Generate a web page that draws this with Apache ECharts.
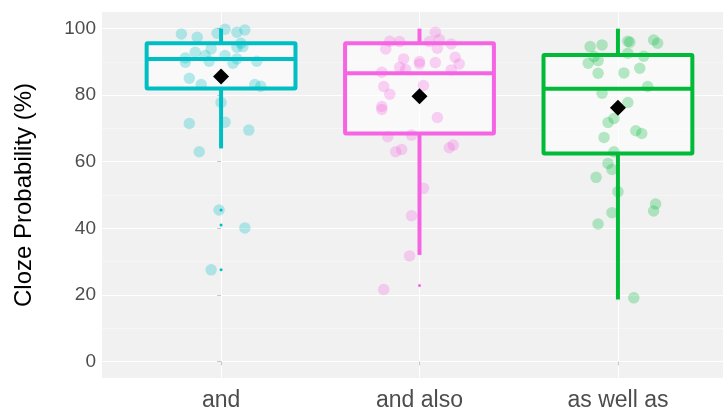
<!DOCTYPE html>
<html>
<head>
<meta charset="utf-8">
<script src="https://cdn.jsdelivr.net/npm/echarts@6/dist/echarts.min.js"></script>
<style>
  html, body { margin: 0; padding: 0; background: #fff; }
  #chart { width: 723px; height: 413px; }
</style>
</head>
<body>
<div id="chart"></div>
<script>
var categories = ['and', 'and also', 'as well as'];
var colors = ['#00BFC4', '#F564E3', '#00BA38'];

// box stats per category: [lower whisker, Q1, median, Q3, upper whisker]
var boxStats = [
  [64, 82, 90.9, 95.6, 100],
  [32, 68.5, 86.6, 95.6, 100],
  [18.6, 62.5, 81.9, 92.1, 100]
];
var means = [85.6, 79.7, 76.2];
var outliers = [[0, 45.5], [0, 41], [0, 27.5], [1, 22.8]];

// jittered raw points, x offset from category centre (category units)
var andOffset = [-0.2, -0.12, -0.02, 0.02, 0.08, 0.12, 0.1, 0.08, 0.11, -0.05, -0.13, -0.18, -0.18, -0.08, -0.06, 0.02, 0.06, 0.08, 0.18, -0.16, -0.1, 0.17, 0.2, 0, -0.16, 0.02, 0.14, -0.11, -0.01, 0.12, -0.05];
var andValue = [98.4, 97.4, 98.6, 99.8, 98.9, 99.6, 95.6, 94.4, 94.6, 93.9, 92.9, 91.2, 89.9, 91.9, 90.2, 91.9, 89.6, 90.9, 90.2, 85.1, 83.2, 83.2, 82.7, 77.8, 71.5, 71.9, 69.5, 63, 45.5, 40.1, 27.5];

var alsoOffset = [0.08, -0.15, -0.1, 0.05, 0.1, 0.16, -0.17, 0.09, 0.18, 0.2, -0.08, 0, 0, 0.08, -0.1, -0.07, -0.19, 0.16, -0.18, 0.02, -0.15, -0.19, -0.19, 0.09, -0.16, -0.04, -0.12, -0.09, 0.15, 0.17, 0.02, -0.04, -0.05, -0.18];
var alsoValue = [98.9, 96.2, 96.1, 96.1, 96.7, 95.4, 93.9, 94.1, 91.4, 89.4, 90.9, 90.1, 89.4, 89.8, 88.4, 87.7, 86.9, 87.6, 82.6, 82.9, 80.3, 76.6, 75.7, 73.3, 67.5, 68, 63, 63.7, 64.2, 65, 52, 43.8, 31.7, 21.6];

var wellOffset = [-0.14, -0.08, 0.05, 0.06, 0.18, 0.2, 0.05, 0.13, -0.12, -0.15, -0.1, 0.11, -0.1, 0.03, 0.15, -0.08, 0.05, -0.02, -0.05, 0.09, 0.12, -0.07, -0.02, -0.05, -0.03, -0.11, 0, 0.19, 0.18, -0.03, -0.1, 0.08];
var wellValue = [94.6, 95.1, 96.2, 95.9, 96.6, 95.6, 92.6, 91.7, 91.6, 89.6, 90.4, 88.1, 86.6, 86.7, 82.6, 80.6, 77.8, 73, 71.8, 69.3, 68.5, 67.3, 63, 59.5, 57.7, 55.3, 51, 47.3, 45.2, 44.7, 41.3, 19.1];

var yTicks = [0, 20, 40, 60, 80, 100];
var yMinor = [10, 30, 50, 70, 90];

var HALF = 0.375;

var jitterSets = [[andOffset, andValue], [alsoOffset, alsoValue], [wellOffset, wellValue]];

function pointsFor(i) {
  var off = jitterSets[i][0], val = jitterSets[i][1];
  var out = [];
  for (var k = 0; k < val.length; k++) {
    out.push([i + off[k], val[k]]);
  }
  return out;
}

var boxData = boxStats.map(function(s, i) { return [i].concat(s); });

function renderBox(params, api) {
  var i = api.value(0);
  var lo = api.value(1), q1 = api.value(2), med = api.value(3), q3 = api.value(4), hi = api.value(5);
  var c = colors[params.dataIndex];
  var tl = api.coord([i - HALF, q3]);
  var br = api.coord([i + HALF, q1]);
  var m1 = api.coord([i - HALF, med]);
  var m2 = api.coord([i + HALF, med]);
  var top = api.coord([i, hi]);
  var bot = api.coord([i, lo]);
  var ctop = api.coord([i, q3]);
  var cbot = api.coord([i, q1]);
  var ls = { stroke: c, lineWidth: 4 };
  return {
    type: 'group',
    children: [
      { type: 'line', shape: { x1: top[0], y1: top[1], x2: ctop[0], y2: ctop[1] }, style: ls },
      { type: 'line', shape: { x1: cbot[0], y1: cbot[1], x2: bot[0], y2: bot[1] }, style: ls },
      { type: 'rect', shape: { x: tl[0], y: tl[1], width: br[0] - tl[0], height: br[1] - tl[1], r: 1 },
        style: { fill: 'rgba(255,255,255,0.55)', stroke: c, lineWidth: 4 } },
      { type: 'line', shape: { x1: m1[0], y1: m1[1], x2: m2[0], y2: m2[1] }, style: ls }
    ]
  };
}

var chart = echarts.init(document.getElementById('chart'));

var series = [
  {
    type: 'custom',
    renderItem: renderBox,
    data: boxData,
    z: 2,
    silent: true
  }
];

for (var i = 0; i < 3; i++) {
  series.push({
    type: 'scatter',
    data: pointsFor(i),
    symbolSize: 11.5,
    itemStyle: { color: colors[i], opacity: 0.28 },
    z: 3,
    silent: true
  });
}

var outlierData = outliers.map(function(o) { return { value: o, itemStyle: { color: colors[o[0]], opacity: 1 } }; });
series.push({
  type: 'scatter',
  data: outlierData,
  symbolSize: 3,
  z: 4,
  silent: true
});

series.push({
  type: 'scatter',
  data: means.map(function(m, i) { return [i, m]; }),
  symbol: 'diamond',
  symbolSize: 16,
  itemStyle: { color: '#000', opacity: 1 },
  z: 5,
  silent: true
});

chart.setOption({
  animation: false,
  textStyle: { fontFamily: 'Liberation Sans, Arial, sans-serif' },
  grid: {
    left: 102,
    top: 12,
    width: 635,
    height: 366,
    outerBoundsMode: 'none',
    containLabel: false,
    show: true,
    backgroundColor: '#F1F1F1',
    borderWidth: 0
  },
  xAxis: {
    type: 'value',
    min: -0.6,
    max: 2.6,
    axisLine: { show: false },
    axisTick: { show: true, length: 4, lineStyle: { color: '#C8C8C8' }, customValues: [0, 1, 2] },
    axisLabel: {
      customValues: [0, 1, 2],
      formatter: function(v) { return categories[Math.round(v)]; },
      color: '#4D4D4D',
      fontSize: 23,
      margin: 11
    },
    splitLine: { show: true, lineStyle: { color: '#FFFFFF', width: 1 } }
  },
  yAxis: [
    {
      type: 'value',
      min: -5,
      max: 105,
      name: 'Cloze Probability (%)',
      nameLocation: 'middle',
      nameGap: 66,
      nameTextStyle: { color: '#000', fontSize: 24 },
      axisLine: { show: false },
      axisTick: { show: true, length: 4, lineStyle: { color: '#C8C8C8' }, customValues: yTicks },
      axisLabel: { customValues: yTicks, color: '#4D4D4D', fontSize: 19, margin: 6 },
      splitLine: { show: true, lineStyle: { color: '#FFFFFF', width: 1.2 } }
    },
    {
      type: 'value',
      min: -5,
      max: 105,
      show: true,
      axisLine: { show: false },
      axisTick: { show: false, customValues: yMinor },
      axisLabel: { show: false, customValues: yMinor },
      splitLine: { show: true, lineStyle: { color: '#F8F8F8', width: 0.8 } }
    }
  ],
  series: series
});
</script>
</body>
</html>
